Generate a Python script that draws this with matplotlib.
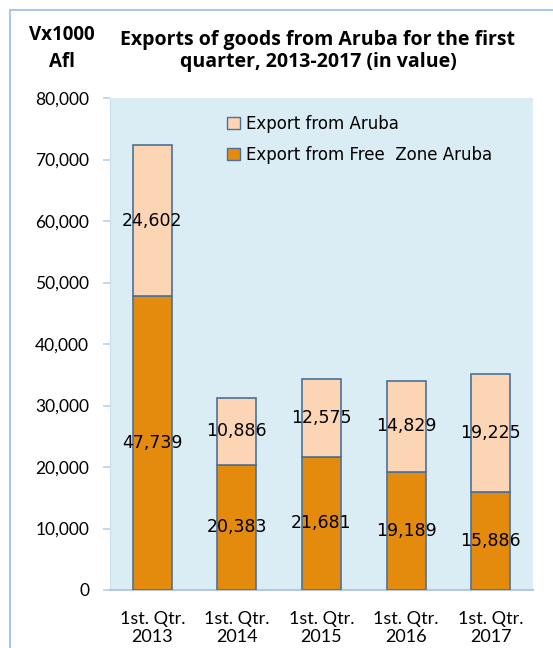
import numpy as np
import matplotlib.pyplot as plt
from matplotlib.patches import Rectangle, Patch
from matplotlib.ticker import FuncFormatter

quarters = ['1st. Qtr.\n2013', '1st. Qtr.\n2014', '1st. Qtr.\n2015', '1st. Qtr.\n2016', '1st. Qtr.\n2017']
free_zone = [47739, 20383, 21681, 19189, 15886]
aruba = [24602, 10886, 12575, 14829, 19225]

orange = '#E48A0C'
peach = '#FCD5B5'
edge = '#4A7199'

fig = plt.figure(figsize=(5.53, 6.48), dpi=100)
fig.patches.append(Rectangle((10/553, -0.1), 1.2, 1.1 - 10/648, transform=fig.transFigure,
                             fill=False, edgecolor='#A9C8E8', linewidth=1.5))

# plot area: x 110..533, y 98..590 (pixels)
ax = fig.add_axes([110/553, 58/648, 423/553, 492/648])
ax.set_facecolor('#DAEDF4')

x = np.arange(len(quarters))
w = 0.46
ax.bar(x, free_zone, w, color=orange, edgecolor=edge, linewidth=1.2, zorder=3)
ax.bar(x, aruba, w, bottom=free_zone, color=peach, edgecolor=edge, linewidth=1.2, zorder=3)

for i in range(len(x)):
    ax.text(x[i], free_zone[i] / 2, f'{free_zone[i]:,}', ha='center', va='center',
            fontsize=12.5, family='DejaVu Sans', zorder=4)
    ax.text(x[i], free_zone[i] + aruba[i] / 2, f'{aruba[i]:,}', ha='center', va='center',
            fontsize=12.5, family='DejaVu Sans', zorder=4)

ax.set_xlim(-0.5, 4.5)
ax.set_ylim(0, 80000)
ax.set_yticks(np.arange(0, 80001, 10000))
ax.yaxis.set_major_formatter(FuncFormatter(lambda v, p: f'{int(v):,}'))
ax.set_xticks(x)
ax.set_xticklabels(quarters, family='Lato', fontsize=13, linespacing=1.15)
for t in ax.get_yticklabels():
    t.set_family('Lato')
    t.set_fontsize(12.5)
ax.tick_params(axis='y', length=5, width=1.2, color='#B8D3EA', pad=10)
ax.tick_params(axis='x', length=0, pad=15)
for s in ['top', 'right']:
    ax.spines[s].set_visible(False)
ax.spines['left'].set_color('#C9DEEF')
ax.spines['bottom'].set_color('#B4C9DE')
ax.spines['bottom'].set_linewidth(1.5)

h = [Patch(facecolor=peach, edgecolor=edge), Patch(facecolor=orange, edgecolor=edge)]
ax.legend(h, ['Export from Aruba', 'Export from Free  Zone Aruba'],
          loc='upper left', bbox_to_anchor=(0.277, 0.966), frameon=False, borderpad=0,
          borderaxespad=0, prop={'family': 'DejaVu Sans', 'size': 12}, handlelength=0.75,
          handleheight=0.75, handletextpad=0.35, labelspacing=0.8)

fig.text(62/553, 1 - 35/648, 'Vx1000', ha='center', va='center', fontsize=13.5,
         fontweight='bold', family='Open Sans')
fig.text(62/553, 1 - 62/648, 'Afl', ha='center', va='center', fontsize=13.5,
         fontweight='bold', family='Open Sans')
fig.text(318/553, 1 - 40/648, 'Exports of goods from Aruba for the first',
         ha='center', va='center', fontsize=14, fontweight='bold', family='Open Sans')
fig.text(318/553, 1 - 62/648, 'quarter, 2013-2017 (in value)',
         ha='center', va='center', fontsize=14, fontweight='bold', family='Open Sans')

fig.savefig('out.png', dpi=100)
